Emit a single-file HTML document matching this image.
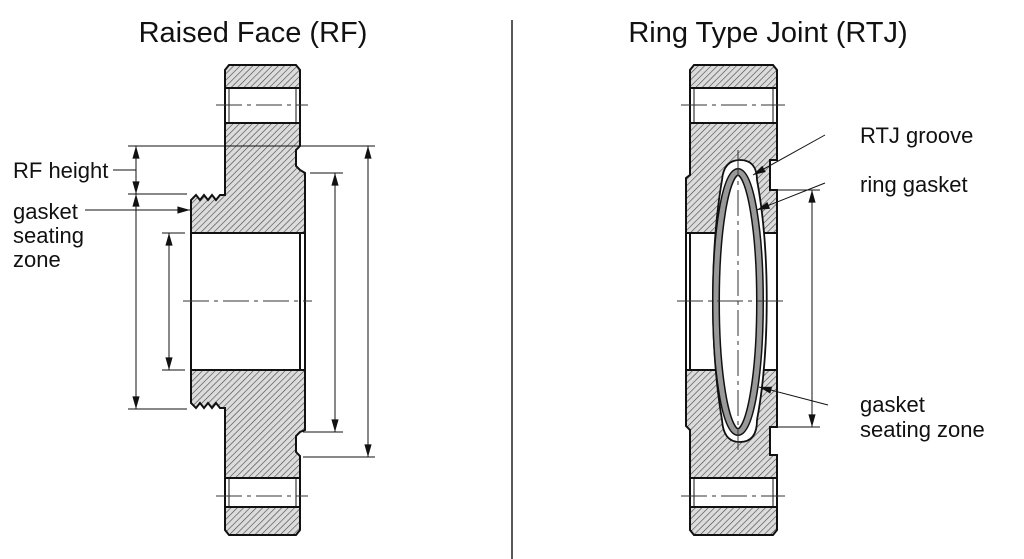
<!DOCTYPE html>
<html><head><meta charset="utf-8"><style>
html,body{margin:0;padding:0;background:#fff;}
svg{display:block;}
text{font-family:"Liberation Sans",sans-serif;fill:#111;}
</style></head><body>
<svg width="1024" height="559" viewBox="0 0 1024 559" xmlns="http://www.w3.org/2000/svg">
<defs>
<pattern id="h" patternUnits="userSpaceOnUse" width="4.5" height="4.5" patternTransform="rotate(45)">
<rect width="4.5" height="4.5" fill="#dcdcdc"/>
<line x1="0" y1="0" x2="0" y2="4.5" stroke="#444" stroke-width="1.2"/>
</pattern>
<marker id="a" viewBox="0 0 14 10" refX="14" refY="5" markerWidth="14" markerHeight="9" orient="auto-start-reverse" markerUnits="userSpaceOnUse"><path d="M0,1 L14,5 L0,9z" fill="#111"/></marker>
</defs>
<rect width="1024" height="559" fill="#fff"/>
<text x="253" y="42" font-size="29" text-anchor="middle">Raised Face (RF)</text>
<text x="768" y="42" font-size="29" text-anchor="middle">Ring Type Joint (RTJ)</text>
<line x1="512" y1="20" x2="512" y2="559" stroke="#222" stroke-width="1.5"/>

<!-- LEFT FLANGE -->
<g stroke="#111" stroke-width="2" fill="url(#h)">
<path d="M229,65 H296 L300,70 V88 H225 V70 Z"/>
<path d="M229,535 H296 L300,530 V507 H225 V530 Z"/>
<path d="M225,123 H300 V146 L296,150 V166 L300,170 L305,173 V233 H191 V200 L196,195 L200,200 L204,195 L208,200 L212,195 L216,200 L220,195 L225,195 Z"/>
<path d="M225,478 H300 V456 L296,452 V436 L300,432 L305,430 V370 H191 V403 L196,408 L200,403 L204,408 L208,403 L212,408 L216,403 L220,408 L225,408 Z"/>
</g>
<g stroke="#111" stroke-width="2" fill="none">
<rect x="225" y="88" width="75" height="35"/>
<rect x="225" y="478" width="75" height="29"/>
<line x1="229" y1="88" x2="229" y2="123" stroke-width="1"/><line x1="296" y1="88" x2="296" y2="123" stroke-width="1"/>
<line x1="229" y1="478" x2="229" y2="507" stroke-width="1"/><line x1="296" y1="478" x2="296" y2="507" stroke-width="1"/>
<rect x="191" y="233" width="114" height="137"/>
<line x1="300" y1="233" x2="300" y2="370"/>
</g>
<g stroke="#333" stroke-width="1" stroke-dasharray="26,5,4,5">
<line x1="216" y1="105" x2="308" y2="105"/>
<line x1="216" y1="496" x2="308" y2="496"/>
<line x1="183" y1="301" x2="312" y2="301"/>
</g>
<g stroke="#111" stroke-width="1" fill="none">
<line x1="128" y1="146" x2="375" y2="146"/>
<line x1="128" y1="194" x2="187" y2="194"/>
<line x1="128" y1="409" x2="187" y2="409"/>
<line x1="162" y1="233" x2="185" y2="233"/>
<line x1="162" y1="370" x2="185" y2="370"/>
<line x1="310" y1="173" x2="343" y2="173"/>
<line x1="303" y1="432" x2="343" y2="432"/>
<line x1="303" y1="457" x2="375" y2="457"/>
<line x1="136" y1="146" x2="136" y2="194" marker-start="url(#a)" marker-end="url(#a)"/>
<line x1="136" y1="194" x2="136" y2="409" marker-start="url(#a)" marker-end="url(#a)"/>
<line x1="169" y1="233" x2="169" y2="370" marker-start="url(#a)" marker-end="url(#a)"/>
<line x1="335" y1="173" x2="335" y2="432" marker-start="url(#a)" marker-end="url(#a)"/>
<line x1="368" y1="146" x2="368" y2="457" marker-start="url(#a)" marker-end="url(#a)"/>
<line x1="113" y1="170" x2="136" y2="170"/>
<line x1="85" y1="210" x2="190" y2="210" marker-end="url(#a)"/>
</g>
<text x="13" y="178" font-size="22">RF height</text>
<text x="13" y="219" font-size="22">gasket</text>
<text x="13" y="243" font-size="22">seating</text>
<text x="13" y="267" font-size="22">zone</text>

<!-- RIGHT FLANGE -->
<g stroke="#111" stroke-width="2" fill="url(#h)">
<path d="M694,65 H773 L777,70 V88 H690 V70 Z"/>
<path d="M694,535 H773 L777,530 V507 H690 V530 Z"/>
<path d="M690,123 H777 V160 H770 V190 H777 V233 H686 V178 L690,175 Z"/>
<path d="M690,478 H777 V455 H770 V427 H777 V370 H686 V426 L690,430 Z"/>
</g>
<g stroke="#111" stroke-width="2" fill="none">
<rect x="690" y="88" width="87" height="35"/>
<rect x="690" y="478" width="87" height="29"/>
<line x1="694" y1="88" x2="694" y2="123" stroke-width="1"/><line x1="773" y1="88" x2="773" y2="123" stroke-width="1"/>
<line x1="694" y1="478" x2="694" y2="507" stroke-width="1"/><line x1="773" y1="478" x2="773" y2="507" stroke-width="1"/>
<rect x="686" y="233" width="91" height="137"/>
<line x1="690" y1="233" x2="690" y2="370"/>
</g>
<!-- groove -->
<path d="M740,160 C752,160 757,168 757,180 C770,250 770,350 757,420 C757,434 752,442 740,442 C728,442 723,434 722,420 C710,350 710,250 722,180 C723,168 728,160 740,160 Z" fill="#fff" stroke="#111" stroke-width="1.8"/>
<ellipse cx="738" cy="302" rx="22" ry="130" fill="none" stroke="#111" stroke-width="8"/>
<ellipse cx="738" cy="302" rx="22" ry="130" fill="none" stroke="#999" stroke-width="5"/>
<g stroke="#333" stroke-width="1" stroke-dasharray="26,5,4,5">
<line x1="681" y1="105" x2="785" y2="105"/>
<line x1="681" y1="496" x2="785" y2="496"/>
<line x1="677" y1="301" x2="785" y2="301"/>
<line x1="738" y1="150" x2="738" y2="450"/>
</g>
<g stroke="#111" stroke-width="1" fill="none">
<line x1="777" y1="190" x2="820" y2="190"/>
<line x1="777" y1="427" x2="820" y2="427"/>
<line x1="812" y1="190" x2="812" y2="427" marker-start="url(#a)" marker-end="url(#a)"/>
<line x1="825" y1="135" x2="753" y2="175" marker-end="url(#a)"/>
<line x1="825" y1="183" x2="757" y2="210" marker-end="url(#a)"/>
<line x1="828" y1="405" x2="759" y2="387" marker-end="url(#a)"/>
</g>
<text x="860" y="143" font-size="22">RTJ groove</text>
<text x="860" y="192" font-size="22">ring gasket</text>
<text x="860" y="412" font-size="22">gasket</text>
<text x="860" y="437" font-size="22">seating zone</text>
</svg>
</body></html>
